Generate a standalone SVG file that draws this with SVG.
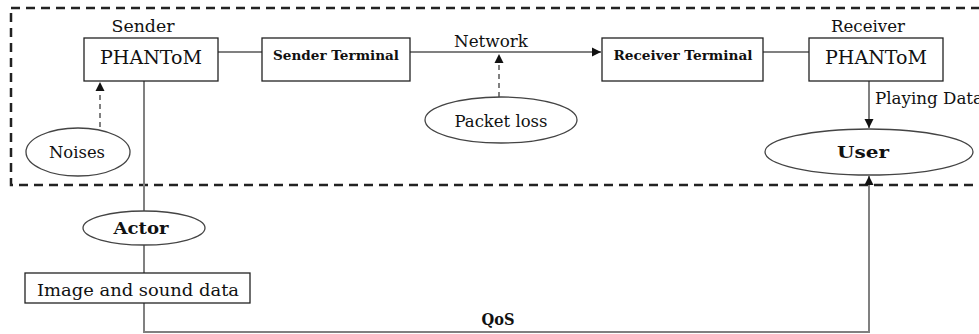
<svg xmlns="http://www.w3.org/2000/svg" width="979" height="334" viewBox="0 0 979 334">
<style>
text{font-family:"DejaVu Serif","Liberation Serif",serif;fill:#111;}
.box{fill:#fff;stroke:#222;stroke-width:1.3;}
.ell{fill:#fff;stroke:#444;stroke-width:1.3;}
.ln{fill:none;stroke:#808080;stroke-width:2;}
.dl{fill:none;stroke:#808080;stroke-width:2;stroke-dasharray:5,4;}
.big{font-size:19px;}
.mid{font-size:16px;}
.bs{font-size:12px;font-weight:bold;}
.bm{font-size:16px;font-weight:bold;}
</style>
<defs>
<marker id="ah" markerWidth="10" markerHeight="10" refX="9" refY="5" orient="auto" markerUnits="userSpaceOnUse">
<path d="M0,0.5 L9,5 L0,9.5 Z" fill="#111"/>
</marker>
</defs>
<rect x="11" y="8" width="1000" height="177" fill="none" stroke="#222" stroke-width="2.5" stroke-dasharray="9,6"/>
<g id="connectors">
<line class="ln" x1="218" y1="52" x2="262" y2="52"/>
<line class="ln" x1="410" y1="52" x2="601" y2="52" marker-end="url(#ah)"/>
<line class="ln" x1="763" y1="52" x2="809" y2="52"/>
<line class="dl" x1="499" y1="97" x2="499" y2="54" marker-end="url(#ah)"/>
<line class="dl" x1="100" y1="127" x2="100" y2="82" marker-end="url(#ah)"/>
<line class="ln" x1="869" y1="81" x2="869" y2="128" marker-end="url(#ah)"/>
<line class="ln" x1="144" y1="81" x2="144" y2="212"/>
<line class="ln" x1="144" y1="245" x2="144" y2="273"/>
<polyline class="ln" points="144,303 144,332 869,332 869,176" marker-end="url(#ah)"/>
<text x="875" y="104" class="mid" textLength="108" lengthAdjust="spacingAndGlyphs">Playing Data</text>
<text x="498" y="325" class="bm" text-anchor="middle" textLength="33" lengthAdjust="spacingAndGlyphs">QoS</text>
<text x="491" y="47" class="mid" text-anchor="middle" textLength="74" lengthAdjust="spacingAndGlyphs">Network</text>
</g>
<g id="sender-phantom">
<text x="143" y="32" class="mid" text-anchor="middle" textLength="63" lengthAdjust="spacingAndGlyphs">Sender</text>
<rect class="box" x="84" y="38" width="134" height="43"/>
<text x="151" y="64" class="big" text-anchor="middle" textLength="102" lengthAdjust="spacingAndGlyphs">PHANToM</text>
</g>
<g id="sender-terminal">
<rect class="box" x="262" y="38" width="148" height="43"/>
<text x="336" y="60" class="bs" text-anchor="middle" textLength="126" lengthAdjust="spacingAndGlyphs">Sender Terminal</text>
</g>
<g id="receiver-terminal">
<rect class="box" x="602" y="38" width="161" height="43"/>
<text x="683" y="60" class="bs" text-anchor="middle" textLength="139" lengthAdjust="spacingAndGlyphs">Receiver Terminal</text>
</g>
<g id="receiver-phantom">
<text x="868" y="32" class="mid" text-anchor="middle" textLength="74" lengthAdjust="spacingAndGlyphs">Receiver</text>
<rect class="box" x="809" y="38" width="134" height="43"/>
<text x="876" y="64" class="big" text-anchor="middle" textLength="102" lengthAdjust="spacingAndGlyphs">PHANToM</text>
</g>
<g id="packet-loss">
<ellipse class="ell" cx="501" cy="120" rx="76" ry="23"/>
<text x="501" y="127" class="mid" text-anchor="middle" textLength="93" lengthAdjust="spacingAndGlyphs">Packet loss</text>
</g>
<g id="noises">
<ellipse class="ell" cx="78" cy="152" rx="52" ry="24"/>
<text x="77" y="158" class="mid" text-anchor="middle" textLength="56" lengthAdjust="spacingAndGlyphs">Noises</text>
</g>
<g id="user">
<ellipse class="ell" cx="869" cy="152" rx="104" ry="23"/>
<text x="863" y="158" class="bm" text-anchor="middle" textLength="52" lengthAdjust="spacingAndGlyphs">User</text>
</g>
<g id="actor">
<ellipse class="ell" cx="144" cy="228" rx="61" ry="17"/>
<text x="141" y="234" class="bm" text-anchor="middle" textLength="55" lengthAdjust="spacingAndGlyphs">Actor</text>
</g>
<g id="image-sound">
<rect class="box" x="25" y="273" width="225" height="30"/>
<text x="138" y="296" class="mid" text-anchor="middle" textLength="202" lengthAdjust="spacingAndGlyphs">Image and sound data</text>
</g>
</svg>
